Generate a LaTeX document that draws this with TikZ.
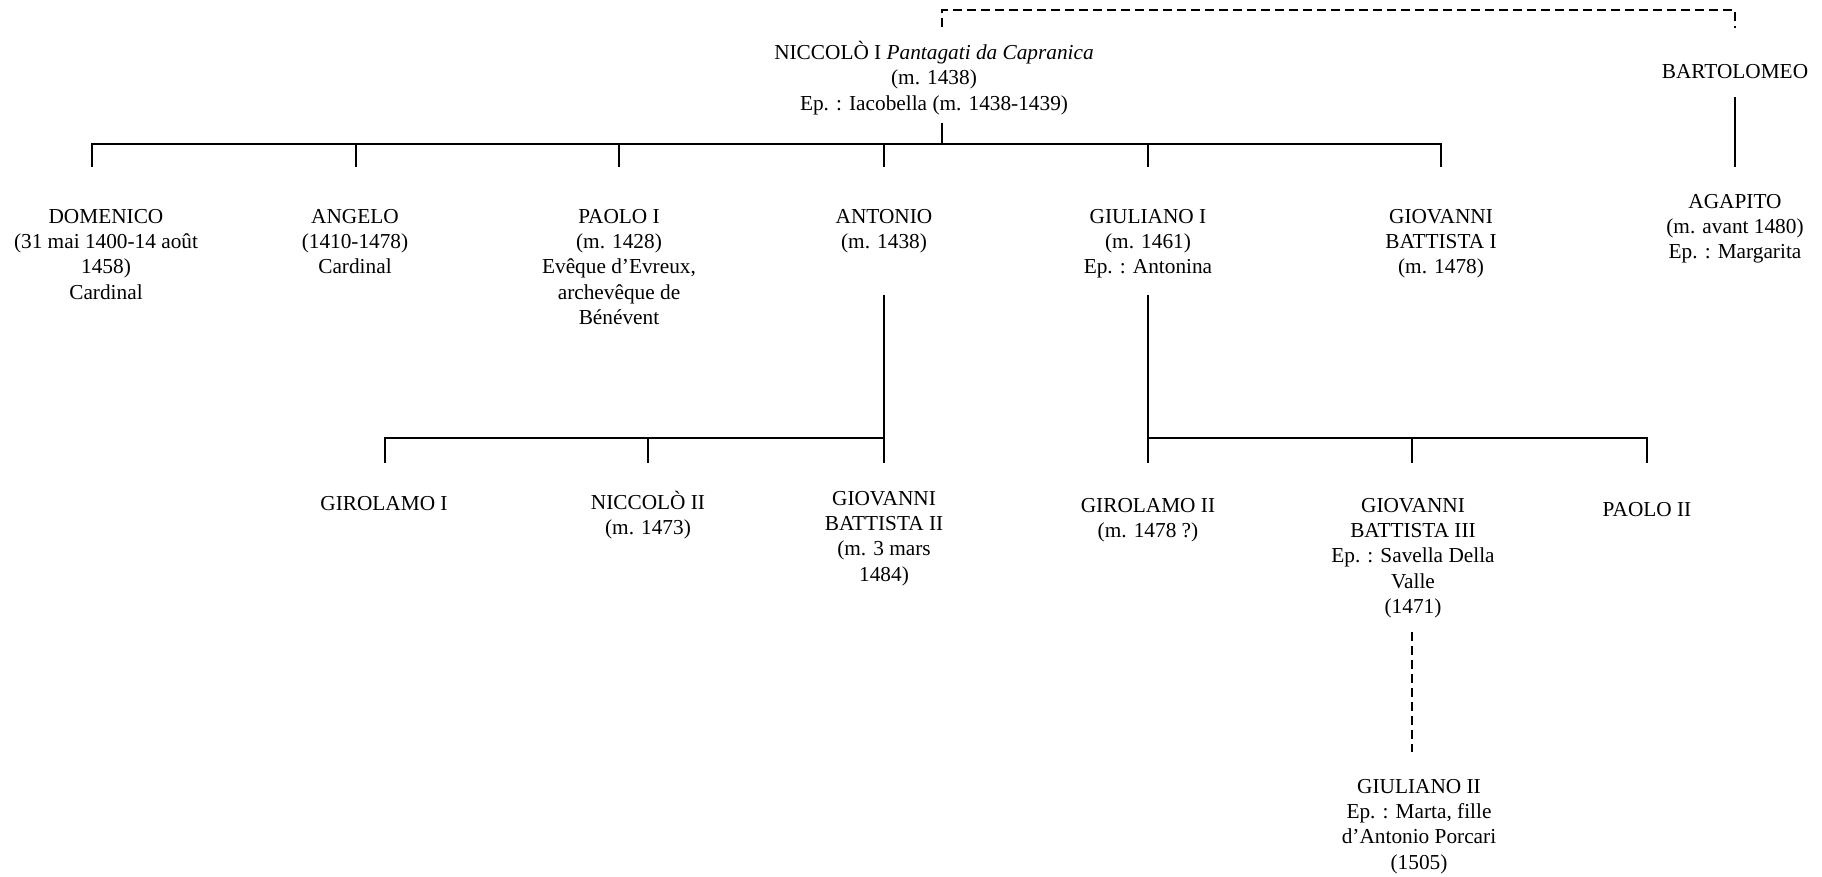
\documentclass[tikz,border=0pt]{standalone}
\usepackage{fontspec}
\setmainfont{Liberation Serif}
\tikzset{
  person/.style={align=center, inner sep=0pt, anchor=north,
    font=\fontsize{10.65}{12.6}\selectfont, execute at begin node=\strut},
  link/.style={line width=1pt},
  uncertain/.style={link, dash pattern=on 4.5pt off 2.5pt},
}
\begin{document}
\begin{tikzpicture}[x=0.5pt,y=-0.5pt]
  \useasboundingbox (0,0) rectangle (1822,877);
  % generation I
  \node[person] (niccolo1) at (934,41) {NICCOLÒ I \textit{Pantagati da Capranica}\\(m. 1438)\\Ep. : Iacobella (m. 1438-1439)};
  \node[person] (bartolomeo) at (1735,60) {BARTOLOMEO};
  % generation II
  \node[person] (domenico) at (106,209) {DOMENICO\\(31 mai 1400-14 août\\1458)\\Cardinal};
  \node[person] (angelo) at (355,209) {ANGELO\\(1410-1478)\\Cardinal};
  \node[person] (paolo1) at (619,209) {PAOLO I\\(m. 1428)\\Evêque d’Evreux,\\archevêque de\\Bénévent};
  \node[person] (antonio) at (884,209) {ANTONIO\\(m. 1438)};
  \node[person] (giuliano1) at (1148,209) {GIULIANO I\\(m. 1461)\\Ep. : Antonina};
  \node[person] (giovanni1) at (1441,209) {GIOVANNI\\BATTISTA I\\(m. 1478)};
  \node[person] (agapito) at (1735,194) {AGAPITO\\(m. avant 1480)\\Ep. : Margarita};
  % generation III
  \node[person] (girolamo1) at (384,492) {GIROLAMO I};
  \node[person] (niccolo2) at (648,491) {NICCOLÒ II\\(m. 1473)};
  \node[person] (giovanni2) at (884,491) {GIOVANNI\\BATTISTA II\\(m. 3 mars\\1484)};
  \node[person] (girolamo2) at (1148,498) {GIROLAMO II\\(m. 1478 ?)};
  \node[person] (giovanni3) at (1413,498) {GIOVANNI\\BATTISTA III\\Ep. : Savella Della\\Valle\\(1471)};
  \node[person] (paolo2) at (1647,498) {PAOLO II};
  % generation IV
  \node[person] (giuliano2) at (1419,779) {GIULIANO II\\Ep. : Marta, fille\\d’Antonio Porcari\\(1505)};

  % line ends
  \coordinate (niccolo1-up) at (942,27);
  \coordinate (niccolo1-down) at (942,123);
  \coordinate (bartolomeo-up) at (1735,28);
  \coordinate (bartolomeo-down) at (1735,97);
  \coordinate (domenico-up) at (92,167);
  \coordinate (angelo-up) at (356,167);
  \coordinate (paolo1-up) at (619,167);
  \coordinate (antonio-up) at (884,167);
  \coordinate (giuliano1-up) at (1148,167);
  \coordinate (giovanni1-up) at (1441,167);
  \coordinate (agapito-up) at (1735,167);
  \coordinate (antonio-down) at (884,295);
  \coordinate (giuliano1-down) at (1148,295);
  \coordinate (girolamo1-up) at (385,463);
  \coordinate (niccolo2-up) at (648,463);
  \coordinate (giovanni2-up) at (884,463);
  \coordinate (girolamo2-up) at (1148,463);
  \coordinate (giovanni3-up) at (1412,463);
  \coordinate (paolo2-up) at (1647,463);
  \coordinate (giovanni3-down) at (1412,632);
  \coordinate (giuliano2-up) at (1412,752);

  % brothers
  \draw[uncertain] (niccolo1-up) -- ++(0,-17) -| (bartolomeo-up);
  % children
  \foreach \c in {domenico,angelo,paolo1,antonio,giuliano1,giovanni1}
    \draw[link] (niccolo1-down) -- ++(0,21) -| (\c-up);
  \draw[link] (bartolomeo-down) -- (agapito-up);
  \foreach \c in {girolamo1,niccolo2,giovanni2}
    \draw[link] (antonio-down) -- ++(0,143) -| (\c-up);
  \foreach \c in {girolamo2,giovanni3,paolo2}
    \draw[link] (giuliano1-down) -- ++(0,143) -| (\c-up);
  \draw[uncertain] (giovanni3-down) -- (giuliano2-up);
\end{tikzpicture}
\end{document}
